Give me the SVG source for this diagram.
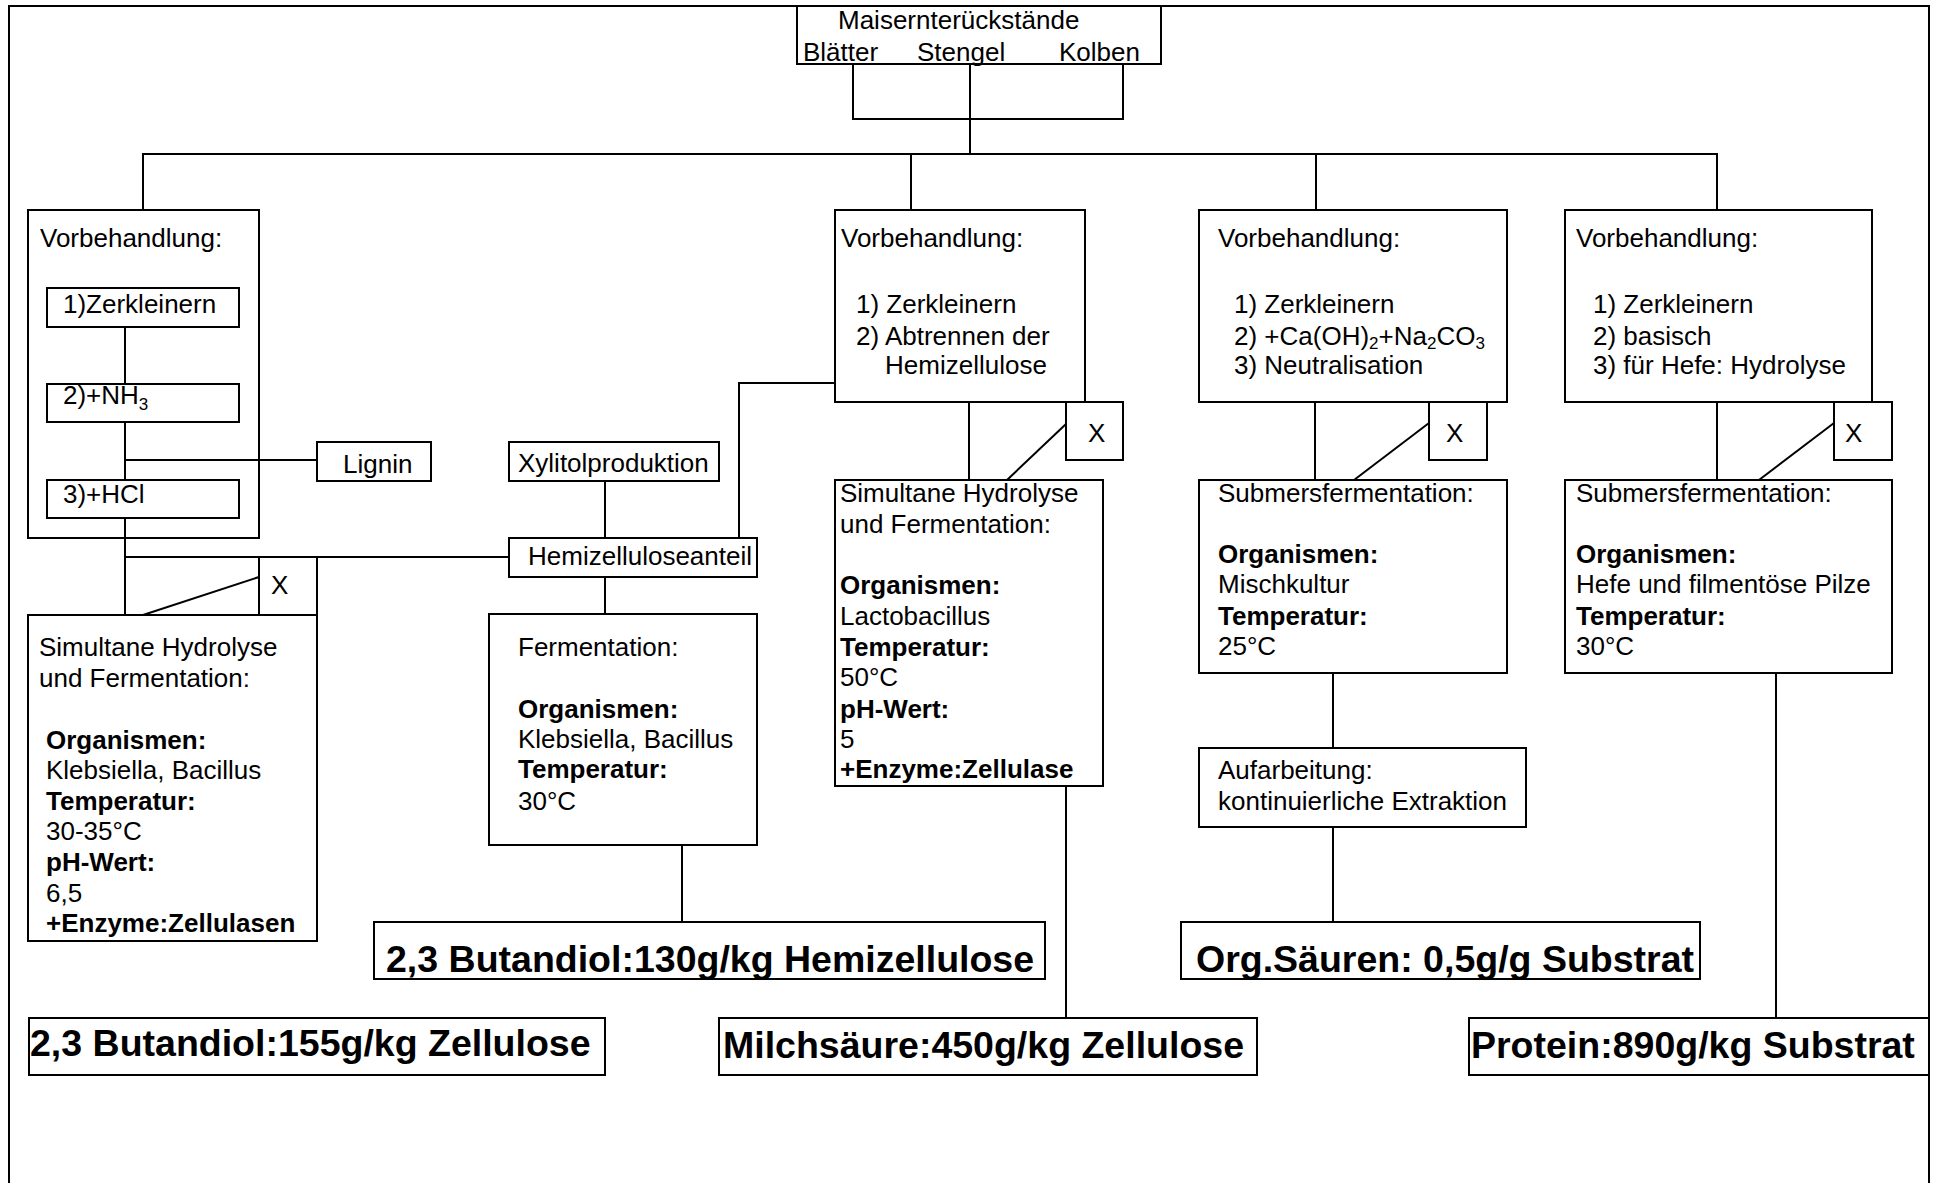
<svg xmlns="http://www.w3.org/2000/svg" width="1933" height="1183" viewBox="0 0 1933 1183">
<style>
.box{fill:none;stroke:#000;stroke-width:2}
.ln{fill:none;stroke:#000;stroke-width:2}
text{font-family:"Liberation Sans",Arial,sans-serif;font-size:26px;fill:#000}
.b{font-weight:bold}
.big{font-weight:bold;font-size:37.5px}
.sub{font-size:17px}
</style>
<rect x="0" y="0" width="1933" height="1183" fill="#fff"/>
<rect id="frame" class="box" x="9" y="6" width="1920" height="1200"/>

<g id="connectors">
<path class="ln" d="M853,64 V119 H1123 V64"/>
<path class="ln" d="M970,64 V154"/>
<path class="ln" d="M143,210 V154 H1717 V210"/>
<path class="ln" d="M911,154 V210"/>
<path class="ln" d="M1316,154 V210"/>
<path class="ln" d="M125,327 V384"/>
<path class="ln" d="M125,422 V480"/>
<path class="ln" d="M125,518 V615"/>
<path class="ln" d="M125,460 H317"/>
<path class="ln" d="M125,557 H509"/>
<path class="ln" d="M259,577 L143,615"/>
<path class="ln" d="M605,481 V538"/>
<path class="ln" d="M605,577 V614"/>
<path class="ln" d="M682,845 V922"/>
<path class="ln" d="M835,383 H739 V538"/>
<path class="ln" d="M969,402 V480"/>
<path class="ln" d="M1066,424 L1007,480"/>
<path class="ln" d="M1066,786 V1018"/>
<path class="ln" d="M1315,402 V480"/>
<path class="ln" d="M1429,423 L1354,480"/>
<path class="ln" d="M1333,673 V748"/>
<path class="ln" d="M1333,827 V922"/>
<path class="ln" d="M1717,402 V480"/>
<path class="ln" d="M1834,423 L1759,480"/>
<path class="ln" d="M1776,673 V1018"/>
</g>

<g id="root">
<rect class="box" x="797" y="6" width="364" height="58"/>
<text x="838" y="29">Maisernterückstände</text>
<text x="803" y="61">Blätter</text>
<text x="917" y="61">Stengel</text>
<text x="1059" y="61">Kolben</text>
</g>

<g id="vorbehandlung1">
<rect class="box" x="28" y="210" width="231" height="328"/>
<text x="40" y="247">Vorbehandlung:</text>
</g>
<g id="step1">
<rect class="box" x="47" y="288" width="192" height="39"/>
<text x="63" y="313">1)Zerkleinern</text>
</g>
<g id="step2">
<rect class="box" x="47" y="384" width="192" height="38"/>
<text x="63" y="404">2)+NH<tspan class="sub" dy="6">3</tspan></text>
</g>
<g id="step3">
<rect class="box" x="47" y="480" width="192" height="38"/>
<text x="63" y="503">3)+HCl</text>
</g>
<g id="lignin">
<rect class="box" x="317" y="442" width="114" height="39"/>
<text x="343" y="473">Lignin</text>
</g>
<g id="x1">
<rect class="box" x="259" y="557" width="58" height="58"/>
<text x="271" y="594">X</text>
</g>
<g id="shf1">
<rect class="box" x="28" y="615" width="289" height="326"/>
<text x="39" y="656">Simultane Hydrolyse</text>
<text x="39" y="687">und Fermentation:</text>
<text class="b" x="46" y="749">Organismen:</text>
<text x="46" y="779">Klebsiella, Bacillus</text>
<text class="b" x="46" y="810">Temperatur:</text>
<text x="46" y="840">30-35°C</text>
<text class="b" x="46" y="871">pH-Wert:</text>
<text x="46" y="902">6,5</text>
<text class="b" x="46" y="932">+Enzyme:Zellulasen</text>
</g>
<g id="result1">
<rect class="box" x="29" y="1018" width="576" height="57"/>
<text class="big" x="30" y="1056">2,3 Butandiol:155g/kg Zellulose</text>
</g>

<g id="xylitol">
<rect class="box" x="509" y="442" width="210" height="39"/>
<text x="518" y="472">Xylitolproduktion</text>
</g>
<g id="hemi">
<rect class="box" x="509" y="538" width="248" height="39"/>
<text x="528" y="565">Hemizelluloseanteil</text>
</g>
<g id="fermentation">
<rect class="box" x="489" y="614" width="268" height="231"/>
<text x="518" y="656">Fermentation:</text>
<text class="b" x="518" y="718">Organismen:</text>
<text x="518" y="748">Klebsiella, Bacillus</text>
<text class="b" x="518" y="778">Temperatur:</text>
<text x="518" y="810">30°C</text>
</g>
<g id="result2">
<rect class="box" x="374" y="922" width="671" height="57"/>
<text class="big" x="386" y="972">2,3 Butandiol:130g/kg Hemizellulose</text>
</g>

<g id="vorbehandlung2">
<rect class="box" x="835" y="210" width="250" height="192"/>
<text x="841" y="247">Vorbehandlung:</text>
<text x="856" y="313">1) Zerkleinern</text>
<text x="856" y="345">2) Abtrennen der</text>
<text x="885" y="374">Hemizellulose</text>
</g>
<g id="x2">
<rect class="box" x="1066" y="402" width="57" height="58"/>
<text x="1088" y="442">X</text>
</g>
<g id="shf2">
<rect class="box" x="835" y="480" width="268" height="306"/>
<text x="840" y="502">Simultane Hydrolyse</text>
<text x="840" y="533">und Fermentation:</text>
<text class="b" x="840" y="594">Organismen:</text>
<text x="840" y="625">Lactobacillus</text>
<text class="b" x="840" y="656">Temperatur:</text>
<text x="840" y="686">50°C</text>
<text class="b" x="840" y="718">pH-Wert:</text>
<text x="840" y="748">5</text>
<text class="b" x="840" y="778">+Enzyme:Zellulase</text>
</g>
<g id="result3">
<rect class="box" x="719" y="1018" width="538" height="57"/>
<text class="big" x="723" y="1058">Milchsäure:450g/kg Zellulose</text>
</g>

<g id="vorbehandlung3">
<rect class="box" x="1199" y="210" width="308" height="192"/>
<text x="1218" y="247">Vorbehandlung:</text>
<text x="1234" y="313">1) Zerkleinern</text>
<text x="1234" y="345">2) +Ca(OH)<tspan class="sub" dy="4">2</tspan><tspan dy="-4">+Na</tspan><tspan class="sub" dy="4">2</tspan><tspan dy="-4">CO</tspan><tspan class="sub" dy="4">3</tspan></text>
<text x="1234" y="374">3) Neutralisation</text>
</g>
<g id="x3">
<rect class="box" x="1429" y="402" width="58" height="58"/>
<text x="1446" y="442">X</text>
</g>
<g id="submers3">
<rect class="box" x="1199" y="480" width="308" height="193"/>
<text x="1218" y="502">Submersfermentation:</text>
<text class="b" x="1218" y="563">Organismen:</text>
<text x="1218" y="593">Mischkultur</text>
<text class="b" x="1218" y="625">Temperatur:</text>
<text x="1218" y="655">25°C</text>
</g>
<g id="aufarbeitung">
<rect class="box" x="1199" y="748" width="327" height="79"/>
<text x="1218" y="779">Aufarbeitung:</text>
<text x="1218" y="810">kontinuierliche Extraktion</text>
</g>
<g id="result4">
<rect class="box" x="1181" y="922" width="519" height="57"/>
<text class="big" x="1196" y="972">Org.Säuren: 0,5g/g Substrat</text>
</g>

<g id="vorbehandlung4">
<rect class="box" x="1565" y="210" width="307" height="192"/>
<text x="1576" y="247">Vorbehandlung:</text>
<text x="1593" y="313">1) Zerkleinern</text>
<text x="1593" y="345">2) basisch</text>
<text x="1593" y="374">3) für Hefe: Hydrolyse</text>
</g>
<g id="x4">
<rect class="box" x="1834" y="402" width="58" height="58"/>
<text x="1845" y="442">X</text>
</g>
<g id="submers4">
<rect class="box" x="1565" y="480" width="327" height="193"/>
<text x="1576" y="502">Submersfermentation:</text>
<text class="b" x="1576" y="563">Organismen:</text>
<text x="1576" y="593">Hefe und filmentöse Pilze</text>
<text class="b" x="1576" y="625">Temperatur:</text>
<text x="1576" y="655">30°C</text>
</g>
<g id="result5">
<rect class="box" x="1469" y="1018" width="460" height="57"/>
<text class="big" x="1471" y="1058">Protein:890g/kg Substrat</text>
</g>
</svg>
